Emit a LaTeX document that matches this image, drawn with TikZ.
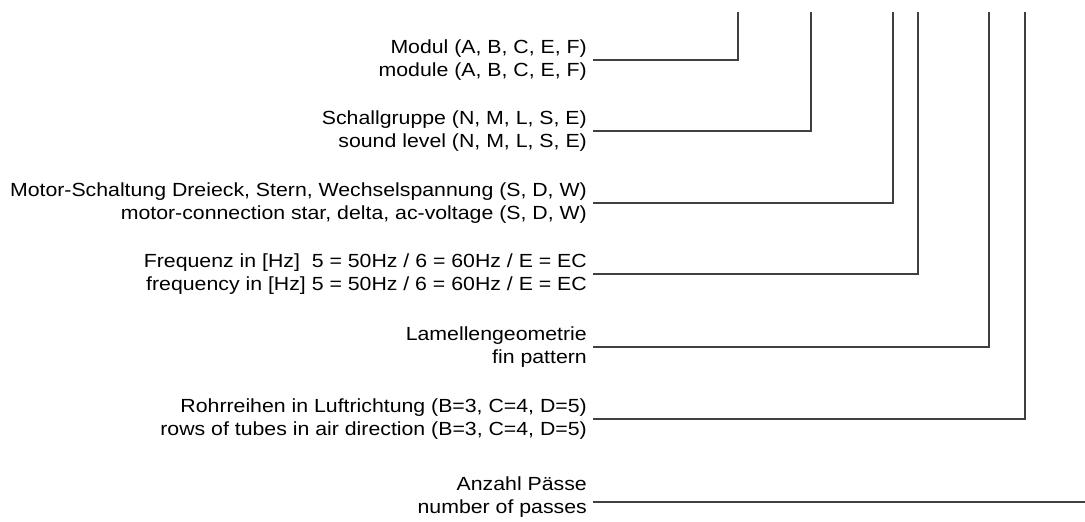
\documentclass[tikz,border=0pt]{standalone}
\usepackage{fontspec}
\setmainfont{Liberation Sans}[FakeStretch=1.12]
\usetikzlibrary{calc}

\tikzset{
  lbl/.style={anchor=east, align=right, inner xsep=6pt, inner ysep=0pt,
    font=\fontsize{19}{23}\selectfont},
  lead/.style={draw=black!75, line width=1.2pt}
}

\begin{document}
\begin{tikzpicture}[x=1pt,y=-1pt]
\useasboundingbox (0,0) rectangle (1085,522);

% labels
\node[lbl] (modul) at (593,60) {Modul (A, B, C, E, F)\\module (A, B, C, E, F)};
\node[lbl] (schall) at (593,131) {Schallgruppe (N, M, L, S, E)\\sound level (N, M, L, S, E)};
\node[lbl] (motor) at (593,203) {Motor-Schaltung Dreieck, Stern, Wechselspannung (S, D, W)\\motor-connection star, delta, ac-voltage (S, D, W)};
\node[lbl] (freq) at (593,274) {Frequenz in [Hz] \ 5 = 50Hz / 6 = 60Hz / E = EC\\frequency in [Hz] 5 = 50Hz / 6 = 60Hz / E = EC};
\node[lbl] (lamelle) at (593,347) {Lamellengeometrie\\fin pattern};
\node[lbl] (rohr) at (593,419) {Rohrreihen in Luftrichtung (B=3, C=4, D=5)\\rows of tubes in air direction (B=3, C=4, D=5)};
\node[lbl] (pass) at (593,497) {Anzahl P\"asse\\number of passes};

% tops of the leads
\foreach \n/\x in {modul/738, schall/811, motor/893, freq/918, lamelle/989, rohr/1025}
  \coordinate (\n-top) at (\x,12);
\coordinate (pass-end) at (1085,502);

\foreach \n in {modul, schall, motor, freq, lamelle, rohr}
  \draw[lead] (\n.east) -| (\n-top);
\draw[lead] (pass.east |- pass-end) -- (pass-end);

\end{tikzpicture}
\end{document}
